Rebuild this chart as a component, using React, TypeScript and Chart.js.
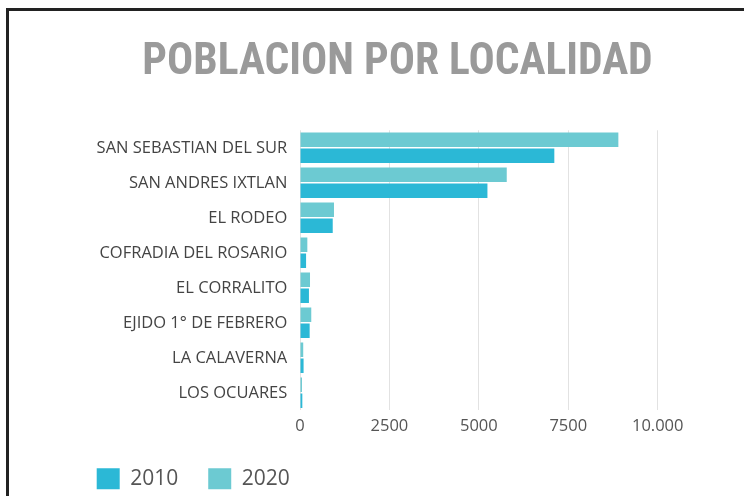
import { useEffect, useRef } from "react";
import { Chart, registerables } from "chart.js";

Chart.register(...registerables);

const titleText = "POBLACION POR LOCALIDAD";
const categories = [
  "SAN SEBASTIAN DEL SUR",
  "SAN ANDRES IXTLAN",
  "EL RODEO",
  "COFRADIA DEL ROSARIO",
  "EL CORRALITO",
  "EJIDO 1° DE FEBRERO",
  "LA CALAVERNA",
  "LOS OCUARES",
];
const values2010 = [7110, 5240, 915, 170, 250, 270, 100, 65];
const values2020 = [8900, 5780, 950, 205, 280, 315, 90, 55];
const xTickLabels = ["0", "2500", "5000", "7500", "10.000"];
const seriesNames = ["2010", "2020"];

const color2010 = "#2bb8d6";
const color2020 = "#6ccad2";

export default function App() {
  const ref = useRef<HTMLCanvasElement>(null);

  useEffect(() => {
    if (!ref.current) return;
    const chart = new Chart(ref.current, {
      type: "bar",
      data: {
        labels: categories,
        datasets: [
          {
            label: seriesNames[1],
            data: values2020,
            backgroundColor: color2020,
            borderWidth: 0,
          },
          {
            label: seriesNames[0],
            data: values2010,
            backgroundColor: color2010,
            borderWidth: 0,
          },
        ],
      },
      options: {
        indexAxis: "y",
        responsive: false,
        animation: false,
        devicePixelRatio: 1,
        layout: { padding: { left: 66.7, right: 15.7, top: 0, bottom: -3.3 } },
        datasets: { bar: { categoryPercentage: 0.92, barPercentage: 0.9 } },
        scales: {
          x: {
            type: "linear",
            min: 0,
            max: 10000,
            ticks: {
              stepSize: 2500,
              padding: 5.8,
              color: "#555",
              font: { family: "'Open Sans', sans-serif", size: 16.5 },
              callback: (_v: any, i: number) => xTickLabels[i],
            },
            grid: { color: "#e2e2e2", drawTicks: false },
            border: { display: false },
            afterFit: (s: any) => {
              s.paddingRight = 86.3;
              s.height = 28;
            },
          },
          y: {
            type: "category",
            grid: { display: false, drawTicks: false },
            border: { display: false },
            ticks: {
              padding: 12.7,
              color: "#444",
              font: { family: "'Open Sans', sans-serif", size: 16.5 },
            },
            afterFit: (s: any) => {
              s.width = 233.3;
            },
          },
        },
        plugins: {
          title: {
            display: true,
            text: titleText,
            color: "#9a9a9a",
            font: {
              family: "'Roboto Condensed', 'DejaVu Sans Condensed', sans-serif",
              size: 43.5,
              weight: "bold",
              lineHeight: 1.2,
            },
            padding: { top: 36.7, bottom: 41.4 },
          },
          legend: {
            position: "bottom",
            align: "start",
            reverse: true,
            labels: {
              boxWidth: 23,
              boxHeight: 21,
              padding: 30,
              color: "#555",
              font: { family: "'Open Sans', sans-serif", size: 21 },
            },
          },
          tooltip: { enabled: false },
        },
      },
    });
    return () => chart.destroy();
  }, []);

  return (
    <div
      style={{
        position: "fixed",
        left: 0,
        top: 0,
        width: 744,
        height: 496,
        overflow: "hidden",
        background: "#fff",
      }}
    >
      <div
        style={{
          position: "absolute",
          left: 6,
          top: 8,
          width: 800,
          height: 560,
          border: "3px solid #222",
          boxSizing: "border-box",
        }}
      />
      <canvas
        ref={ref}
        width={744}
        height={496}
        style={{ position: "absolute", left: 0, top: 0, display: "block" }}
      />
    </div>
  );
}
